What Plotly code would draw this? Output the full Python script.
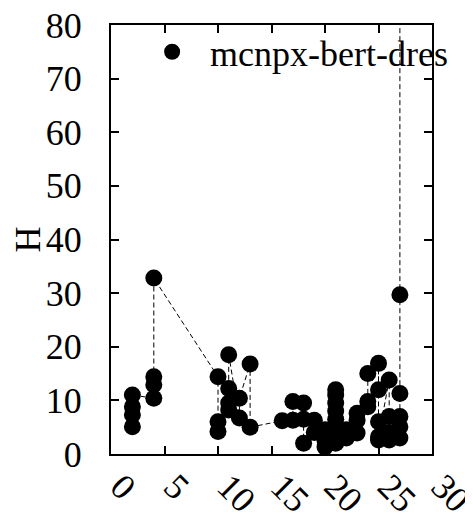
import plotly.graph_objects as go

# data (x position, H value) in plotted order
x_vals = [2, 2, 2, 2,
          4, 4, 4, 4,
          10, 10, 10,
          11, 11, 11, 11,
          12, 12,
          13, 13,
          16,
          17, 17,
          18, 18, 18,
          19, 19,
          20, 20, 20,
          21, 21, 21, 21, 21, 21, 21, 21,
          22, 22,
          23, 23, 23,
          24, 24, 24,
          25, 25, 25, 25, 25,
          26, 26, 26, 26,
          27, 27, 27, 27, 27, 27]
h_vals = [5.1, 7.3, 8.8, 11.0,
          10.4, 12.9, 14.4, 32.8,
          14.4, 6.0, 4.2,
          8.2, 9.5, 12.2, 18.5,
          6.7, 10.4,
          16.8, 5.0,
          6.2,
          6.3, 9.8,
          9.5, 6.5, 2.0,
          4.0, 6.3,
          4.5, 2.5, 1.3,
          2.0, 3.5, 5.0, 6.5, 8.0, 9.5, 11.0, 12.0,
          4.5, 3.0,
          6.3, 7.6, 3.9,
          8.8, 9.8, 15.0,
          12.0, 16.9, 6.0, 2.6, 3.2,
          13.8, 7.0, 2.6, 4.0,
          3.0, 5.1, 7.0, 11.3, 29.7, 95.0]

series_name = "mcnpx-bert-dres"
x_ticks = [0, 5, 10, 15, 20, 25, 30]
y_ticks = [0, 10, 20, 30, 40, 50, 60, 70, 80]

FONT = "Liberation Serif, Times New Roman, serif"

fig = go.Figure()
fig.add_trace(go.Scatter(
    x=x_vals, y=h_vals, mode="lines", showlegend=False,
    line=dict(color="black", width=1, dash="5px,3px"),
))
fig.add_trace(go.Scatter(
    x=x_vals, y=h_vals, mode="markers", name=series_name,
    marker=dict(color="black", size=17, symbol="circle"),
))

axis_common = dict(
    showline=True, linecolor="black", linewidth=2, mirror="ticks",
    ticks="inside", ticklen=8, tickwidth=1.5, tickcolor="black",
    showgrid=False, zeroline=False, automargin=False,
    ticklabeloverflow="allow",
    tickfont=dict(family=FONT, size=36, color="black"),
)
fig.update_xaxes(range=[0, 30], tickvals=x_ticks, ticktext=[str(t) for t in x_ticks],
                 tickangle=45, ticklabelshift=10, ticklabelstandoff=-5, **axis_common)
fig.update_yaxes(range=[0, 80], tickvals=y_ticks, ticktext=[str(t) for t in y_ticks],
                 ticklabelstandoff=20,
                 title=dict(text="H", font=dict(family=FONT, size=36, color="black"), standoff=15),
                 **axis_common)

fig.update_layout(
    width=465, height=511,
    margin=dict(l=103, r=41, t=17, b=65, autoexpand=False),
    plot_bgcolor="white", paper_bgcolor="white",
    font=dict(family=FONT, size=36, color="black"),
    legend=dict(x=0.072, y=1.0073, xanchor="left", yanchor="top",
                bgcolor="rgba(0,0,0,0)", borderwidth=0,
                font=dict(family=FONT, size=36), itemwidth=66),
)

fig.write_html("out.html")
